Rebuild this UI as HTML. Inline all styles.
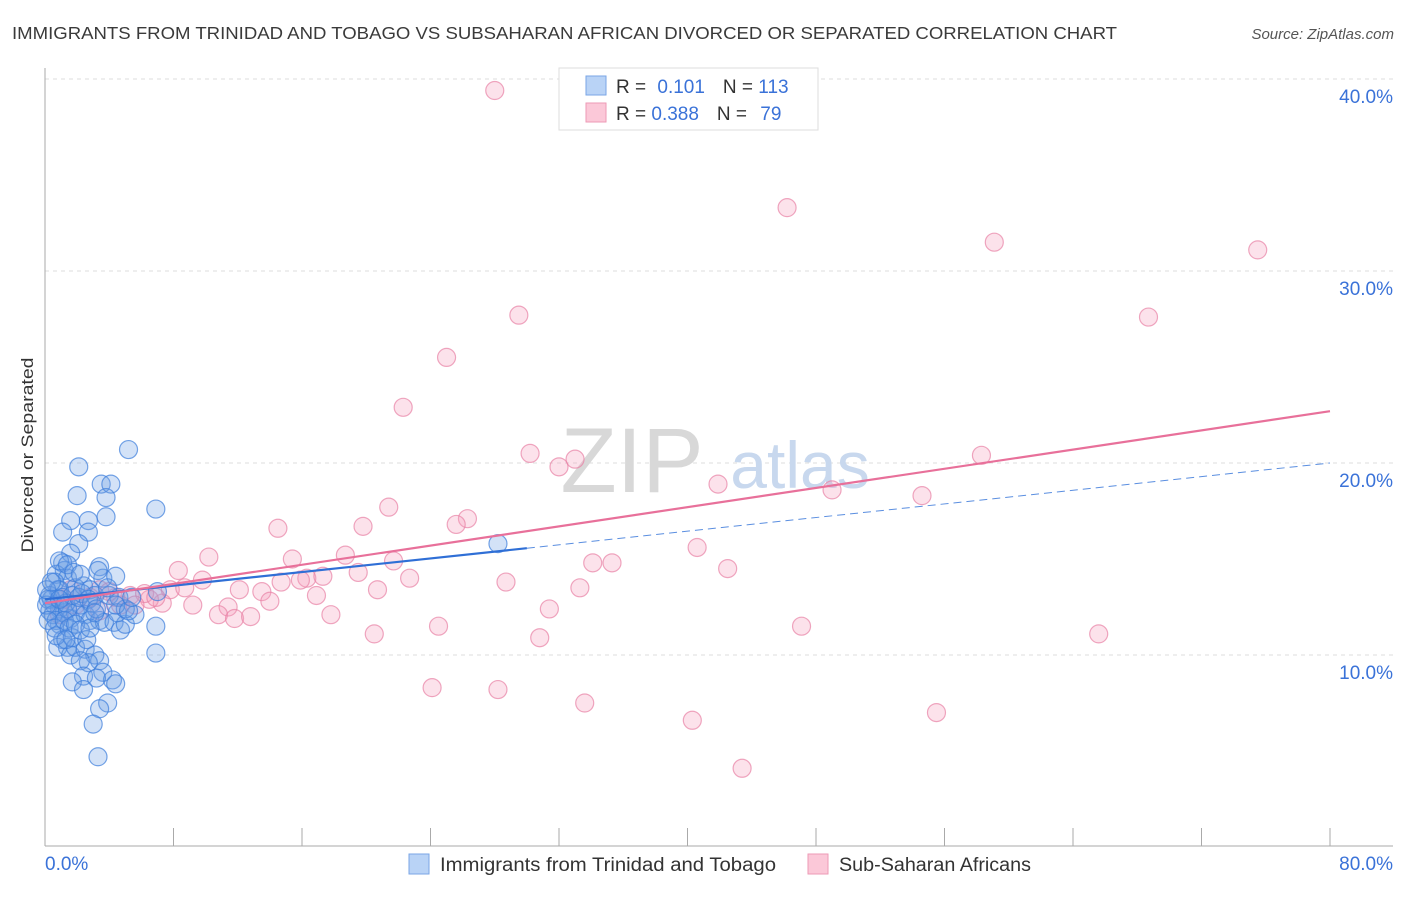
<!DOCTYPE html>
<html><head><meta charset="utf-8"><style>
body{margin:0;background:#fff;font-family:"Liberation Sans",sans-serif;}
svg text{font-family:"Liberation Sans",sans-serif;}
</style></head><body>
<svg id="chart" width="1406" height="892" viewBox="0 0 1406 892" xmlns="http://www.w3.org/2000/svg">
<text x="12" y="39" font-size="17.5" fill="#3a3a3a" textLength="1105" lengthAdjust="spacingAndGlyphs">IMMIGRANTS FROM TRINIDAD AND TOBAGO VS SUBSAHARAN AFRICAN DIVORCED OR SEPARATED CORRELATION CHART</text>
<text x="1394" y="39" font-size="15" fill="#555" font-style="italic" text-anchor="end">Source: ZipAtlas.com</text>
<g id="grid"></g>
<g>
<text x="632" y="492" font-size="92" fill="#d8d8d8" font-family="Liberation Serif" text-anchor="middle">ZIP</text>
<text x="800" y="488" font-size="66" fill="#c8d8ee" text-anchor="middle">atlas</text>
</g>
<text transform="translate(33,455) rotate(-90)" font-size="17" fill="#333" text-anchor="middle" textLength="195" lengthAdjust="spacingAndGlyphs">Divorced or Separated</text>
<g id="axes"></g>
<g id="pts"></g>
<g id="lines"></g>
<g>
<rect x="559" y="68" width="259" height="62" fill="#fff" stroke="#ddd"/>
<rect x="586" y="76" width="20" height="19" fill="#b9d3f6" stroke="#7aa6e6"/>
<rect x="586" y="103" width="20" height="19" fill="#fbc8d8" stroke="#ee9ab6"/>
<text x="616" y="93" font-size="19" fill="#333">R = <tspan fill="#3a72d8" dx="6">0.101</tspan><tspan dx="18" fill="#333">N = </tspan><tspan fill="#3a72d8">113</tspan></text>
<text x="616" y="120" font-size="19" fill="#333">R = <tspan fill="#3a72d8">0.388</tspan><tspan dx="18" fill="#333">N = </tspan><tspan fill="#3a72d8" dx="8">79</tspan></text>
</g>
<g>
<rect x="409" y="854" width="20" height="20" fill="#b9d3f6" stroke="#7aa6e6"/>
<text x="440" y="871" font-size="19" fill="#333" textLength="336" lengthAdjust="spacingAndGlyphs">Immigrants from Trinidad and Tobago</text>
<rect x="808" y="854" width="20" height="20" fill="#fbc8d8" stroke="#ee9ab6"/>
<text x="839" y="871" font-size="19" fill="#333" textLength="192" lengthAdjust="spacingAndGlyphs">Sub-Saharan Africans</text>
</g>
</svg>
<script>
const blueX=[5.2,2.1,2.0,3.5,4.1,3.8,6.9,1.6,3.8,2.7,1.1,2.7,2.1,1.6,1.1,1.2,0.7,1.4,0.6,1.9,3.4,3.6,4.4,2.4,2.8,0.8,3.1,4.0,4.6,7.0,0.3,0.4,0.6,0.9,1.2,1.6,1.9,2.2,2.5,2.8,3.4,3.7,4.3,4.7,5.0,5.6,6.9,0.9,1.1,1.4,0.8,1.6,1.9,2.5,3.1,3.4,2.7,2.2,6.9,2.4,1.7,3.6,4.2,4.4,3.2,2.4,3.9,3.4,3.0,3.3,0.2,0.3,0.5,0.7,0.9,1.1,1.3,1.4,1.7,2.1,2.3,2.7,2.9,3.2,0.1,0.1,0.2,0.4,0.6,0.7,0.9,1.2,1.5,1.7,1.9,2.2,2.6,2.8,3.1,4.5,5.0,3.3,3.9,4.4,5.2,5.4,0.9,1.4,1.8,2.2,28.2,1.3];
const blueY=[20.7,19.8,18.3,18.9,18.9,18.2,17.6,17.0,17.2,17.0,16.4,16.4,15.8,15.3,14.8,14.4,14.2,14.0,13.8,13.5,14.6,14.0,14.1,13.6,13.4,13.4,13.1,13.1,13.0,13.3,13.1,12.9,12.6,12.4,12.2,11.9,12.2,12.6,12.1,11.8,11.8,11.7,11.7,11.3,11.6,12.1,11.5,11.6,10.8,10.4,10.4,10.0,10.4,10.3,10.0,9.7,9.6,9.7,10.1,8.9,8.6,9.1,8.7,8.5,8.8,8.2,7.5,7.2,6.4,4.7,12.9,12.3,12.1,11.8,13.4,13.0,12.7,12.4,13.1,13.0,13.2,12.9,12.7,12.4,12.6,13.4,11.8,13.8,11.4,11.0,12.9,11.8,11.4,10.9,11.6,11.3,10.8,11.4,12.2,12.2,12.4,14.4,13.5,12.6,12.3,13.0,14.9,14.7,14.3,14.2,15.8,10.8];
const pinkX=[28.0,46.2,59.1,75.5,29.5,68.7,25.0,22.3,30.2,33.0,32.0,58.3,41.9,49.0,54.6,14.5,19.8,21.4,26.3,25.6,10.2,15.4,18.7,21.7,40.6,34.1,35.3,8.3,42.5,9.8,16.3,17.3,19.5,22.7,28.7,33.3,12.1,13.5,14.7,15.9,20.7,16.9,14.0,9.2,11.4,7.3,6.5,5.3,4.4,6.2,3.4,4.7,10.8,11.8,12.8,17.8,31.4,20.5,24.5,30.8,47.1,65.6,24.1,28.2,33.6,40.3,55.5,43.4,1.2,1.9,2.8,3.4,5.6,7.8,8.7,6.9,4.0,1.6,0.9];
const pinkY=[39.4,33.3,31.5,31.1,27.7,27.6,25.5,22.9,20.5,20.2,19.8,20.4,18.9,18.6,18.3,16.6,16.7,17.7,17.1,16.8,15.1,15.0,15.2,14.9,15.6,14.8,14.8,14.4,14.5,13.9,14.0,14.1,14.3,14.0,13.8,13.5,13.4,13.3,13.8,13.9,13.4,13.1,12.8,12.6,12.5,12.7,12.9,13.1,13.0,13.2,13.4,12.6,12.1,11.9,12.0,12.1,12.4,11.1,11.5,10.9,11.5,11.1,8.3,8.2,7.5,6.6,7.0,4.1,12.9,12.6,13.0,12.3,12.6,13.4,13.5,13.0,13.3,13.4,12.1];
const yTicks=[10,20,30,40];
const yTickLabels=["10.0%","20.0%","30.0%","40.0%"];
const xTickLabels=["0.0%","80.0%"];
const blueTrend=[12.9,20.0]; const blueSolidEnd=30.0;
const pinkTrend=[12.7,22.7];

const NS="http://www.w3.org/2000/svg";
const X0=45,X1=1330,Y0=847,PPY=19.2;
function sx(v){return X0+(v/80)*(X1-X0);}
function sy(v){return Y0-v*PPY;}
function mk(tag,attrs,parent){const e=document.createElementNS(NS,tag);for(const k in attrs)e.setAttribute(k,attrs[k]);parent.appendChild(e);return e;}
const grid=document.getElementById('grid'),axes=document.getElementById('axes'),pts=document.getElementById('pts'),lines=document.getElementById('lines');
yTicks.forEach((t,i)=>{
 const l=mk('line',{x1:X0,x2:1393,y1:sy(t),y2:sy(t),stroke:'#ddd','stroke-dasharray':'4,4'},grid);
 
 
 const tx=mk('text',{x:1393,y:sy(t)+24,'font-size':19,fill:'#3a72d8','text-anchor':'end'},axes);
 tx.textContent=yTickLabels[i];
 
 
});
const ya=mk('line',{x1:X0,x2:X0,y1:68,y2:846,stroke:'#aaa'},axes);


const xa=mk('line',{x1:X0,x2:1393,y1:846,y2:846,stroke:'#aaa'},axes);


for(let i=0;i<=10;i++){
 const t=mk('line',{x1:sx(i*8),x2:sx(i*8),y1:828,y2:846,stroke:'#aaa'},axes);
 
 
}
const xl0=mk('text',{x:45,y:870,'font-size':19,fill:'#3a72d8'},axes);xl0.textContent=xTickLabels[0];


const xl1=mk('text',{x:1393,y:870,'font-size':19,fill:'#3a72d8','text-anchor':'end'},axes);xl1.textContent=xTickLabels[1];


pinkX.forEach((x,i)=>{
 const c=mk('circle',{cx:sx(x),cy:sy(pinkY[i]),r:9,fill:'rgba(246,160,190,0.3)',stroke:'rgba(232,130,165,0.7)','stroke-width':1.2},pts);
 
 
});
blueX.forEach((x,i)=>{
 const c=mk('circle',{cx:sx(x),cy:sy(blueY[i]),r:9,fill:'rgba(110,160,230,0.3)',stroke:'rgba(60,125,220,0.7)','stroke-width':1.2},pts);
 
 
});
function by(x){return blueTrend[0]+(blueTrend[1]-blueTrend[0])*x/80;}
const bl=mk('line',{x1:sx(0),y1:sy(by(0)),x2:sx(blueSolidEnd),y2:sy(by(blueSolidEnd)),stroke:'#2f6fd6','stroke-width':2.2},lines);


const bd=mk('line',{x1:sx(blueSolidEnd),y1:sy(by(blueSolidEnd)),x2:sx(80),y2:sy(by(80)),stroke:'#5a8ee0','stroke-width':1,'stroke-dasharray':'8,5'},lines);


const pl=mk('line',{x1:sx(0),y1:sy(pinkTrend[0]),x2:sx(80),y2:sy(pinkTrend[1]),stroke:'#e8709a','stroke-width':2.2},lines);


</script>
</body></html>
